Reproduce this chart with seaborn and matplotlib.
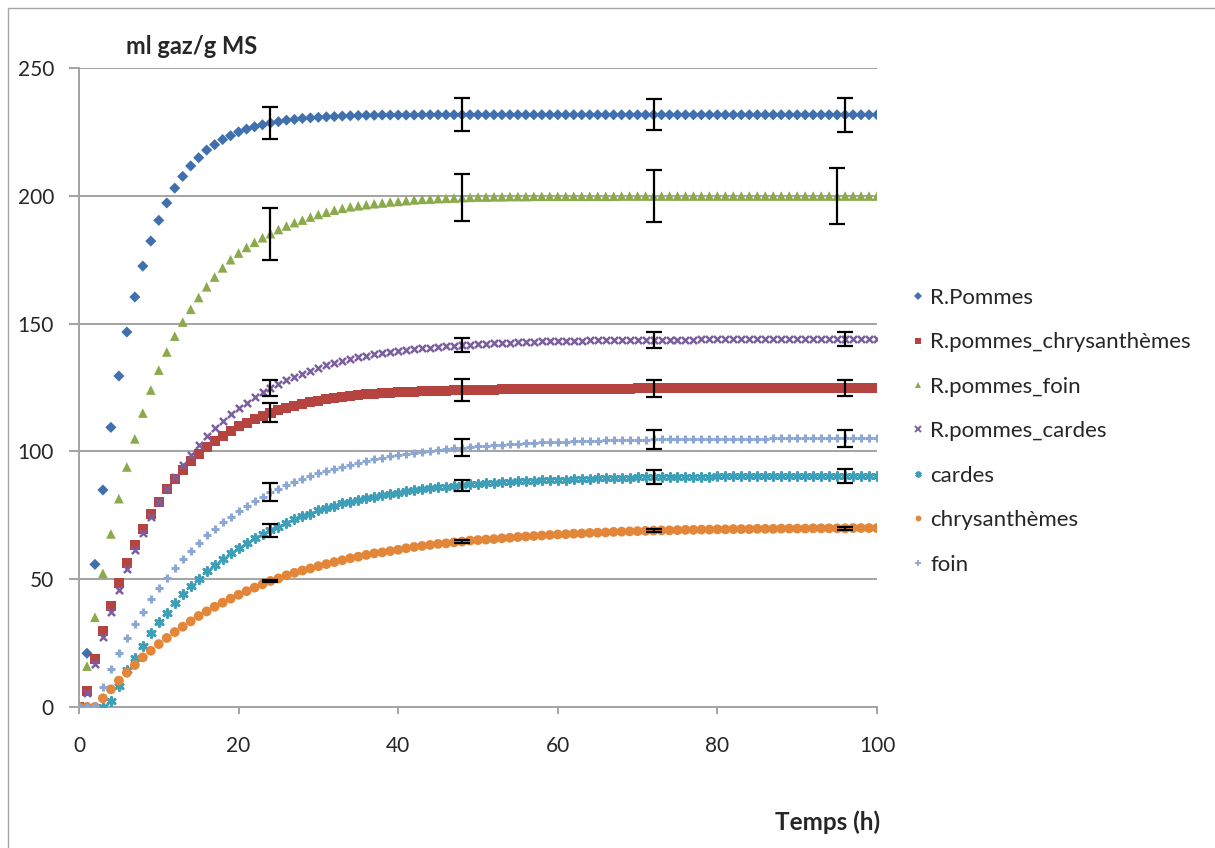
import matplotlib
matplotlib.use("Agg")
import matplotlib.pyplot as plt
from matplotlib.lines import Line2D
import seaborn as sns
import pandas as pd
import numpy as np

hours = list(range(0, 101))

r_pommes = [0, 21, 55.8, 84.9, 109.4, 129.5, 146.7, 160.4, 172.5, 182.3,
            190.4, 197.2, 203, 207.6, 211.7, 214.9, 217.9, 220, 222, 223.5,
            225, 226.1, 227, 227.8, 228.5, 229, 229.6, 229.9, 230.3, 230.5,
            230.7, 230.9, 231, 231.2, 231.3, 231.4, 231.5, 231.5, 231.6, 231.6,
            231.6, 231.6, 231.6, 231.7, 231.7, 231.7, 231.7, 231.7, 231.7, 231.7,
            231.7, 231.7, 231.7, 231.7, 231.7, 231.7, 231.7, 231.7, 231.7, 231.7,
            231.7, 231.7, 231.7, 231.7, 231.7, 231.7, 231.7, 231.7, 231.7, 231.7,
            231.7, 231.7, 231.7, 231.7, 231.7, 231.7, 231.7, 231.7, 231.7, 231.7,
            231.7, 231.7, 231.7, 231.7, 231.7, 231.7, 231.7, 231.7, 231.7, 231.7,
            231.7, 231.7, 231.7, 231.7, 231.7, 231.7, 231.7, 231.7, 231.7, 231.7,
            231.7]

r_chrys = [0, 6.4, 18.8, 29.6, 39.6, 48.4, 56.2, 63.3, 69.6, 75.4,
           80.3, 85.2, 89.2, 92.7, 96.1, 99.1, 101.6, 104.1, 106.2, 108.1,
           109.8, 111.3, 112.7, 114, 115.2, 116.1, 117, 117.9, 118.7, 119.3,
           119.8, 120.5, 120.9, 121.3, 121.7, 122.1, 122.3, 122.6, 122.7, 123,
           123.1, 123.3, 123.4, 123.5, 123.6, 123.7, 123.8, 123.9, 124, 124,
           124.1, 124.2, 124.2, 124.3, 124.3, 124.4, 124.4, 124.4, 124.5, 124.5,
           124.5, 124.5, 124.5, 124.6, 124.6, 124.6, 124.6, 124.6, 124.6, 124.6,
           124.7, 124.7, 124.7, 124.7, 124.7, 124.7, 124.7, 124.7, 124.7, 124.7,
           124.7, 124.7, 124.7, 124.7, 124.7, 124.7, 124.8, 124.8, 124.8, 124.8,
           124.8, 124.8, 124.8, 124.8, 124.8, 124.8, 124.8, 124.8, 124.8, 124.8,
           124.8]

r_foin = [0, 16, 35.1, 52.3, 67.7, 81.5, 93.9, 104.9, 115, 124,
          131.8, 138.9, 145.1, 150.6, 155.6, 160.2, 164.4, 168.2, 171.8, 175,
          177.6, 179.8, 181.8, 183.6, 185.2, 186.8, 188.2, 189.5, 190.5, 191.7,
          192.7, 193.6, 194.4, 195.1, 195.7, 196.1, 196.5, 196.9, 197.2, 197.6,
          197.8, 198.1, 198.4, 198.6, 198.7, 198.9, 199, 199.1, 199.3, 199.4,
          199.5, 199.5, 199.6, 199.6, 199.7, 199.7, 199.7, 199.8, 199.8, 199.8,
          199.8, 199.8, 199.8, 199.8, 199.8, 199.8, 199.8, 199.8, 199.9, 199.9,
          199.9, 199.9, 199.9, 199.9, 199.9, 199.9, 199.9, 199.9, 199.9, 199.9,
          199.9, 199.9, 199.9, 199.9, 199.9, 199.9, 199.9, 199.9, 199.9, 199.9,
          199.9, 199.9, 199.9, 199.9, 199.9, 199.9, 199.9, 199.9, 199.9, 199.9,
          199.9]

r_cardes = [0, 5.4, 17, 27.3, 37, 45.8, 53.9, 61.3, 68.1, 74.2,
            80.1, 85.3, 90.1, 94.7, 98.7, 102.5, 106, 109.2, 111.7, 114.5,
            116.9, 119.1, 121.2, 123.1, 124.9, 126.4, 127.9, 129.2, 130.3, 131.5,
            132.6, 133.7, 134.6, 135.4, 136.2, 136.8, 137.4, 138.1, 138.6, 139,
            139.4, 139.8, 140, 140.3, 140.6, 140.8, 141.1, 141.4, 141.5, 141.8,
            142, 142.2, 142.3, 142.4, 142.6, 142.7, 142.8, 142.9, 143, 143.1,
            143.2, 143.2, 143.3, 143.3, 143.4, 143.4, 143.5, 143.5, 143.5, 143.6,
            143.6, 143.6, 143.6, 143.7, 143.7, 143.7, 143.7, 143.7, 143.8, 143.8,
            143.8, 143.8, 143.8, 143.8, 143.8, 143.8, 143.9, 143.9, 143.9, 143.9,
            143.9, 143.9, 143.9, 143.9, 143.9, 143.9, 143.9, 143.9, 143.9, 143.9,
            143.9]

cardes = [0, 0, 0, 0, 2.3, 8.3, 14.5, 19.3, 24, 28.8,
          33.1, 36.9, 40.7, 44.2, 47.5, 50.2, 53.2, 55.7, 58, 60.3,
          62.3, 64.2, 66, 67.8, 69.2, 70.5, 72, 73.4, 74.6, 75.6,
          76.9, 78, 78.8, 79.7, 80.2, 81, 81.6, 82.3, 82.8, 83.3,
          83.8, 84.4, 84.8, 85.2, 85.6, 86, 86.2, 86.5, 86.7, 87.1,
          87.4, 87.5, 87.8, 87.9, 88.1, 88.3, 88.4, 88.6, 88.7, 88.8,
          88.9, 89, 89.1, 89.2, 89.3, 89.4, 89.5, 89.6, 89.6, 89.7,
          89.8, 89.8, 89.9, 89.9, 90, 90, 90, 90.1, 90.1, 90.1,
          90.2, 90.2, 90.2, 90.2, 90.3, 90.3, 90.3, 90.3, 90.3, 90.4,
          90.4, 90.4, 90.4, 90.4, 90.4, 90.4, 90.4, 90.4, 90.4, 90.4,
          90.4]

chrys = [0, 0, 0, 3.4, 6.9, 10.3, 13.4, 16.4, 19.4, 22,
         24.6, 27, 29.3, 31.4, 33.5, 35.6, 37.4, 39.2, 40.8, 42.4,
         43.9, 45.3, 46.7, 48, 49.3, 50.3, 51.5, 52.5, 53.4, 54.2,
         55.1, 55.9, 56.7, 57.4, 58.2, 58.8, 59.5, 60.1, 60.5, 61,
         61.5, 62.1, 62.6, 63, 63.4, 63.8, 64, 64.4, 64.7, 65.1,
         65.3, 65.5, 65.7, 66, 66.2, 66.5, 66.7, 66.9, 67.1, 67.3,
         67.5, 67.6, 67.8, 67.9, 68.1, 68.2, 68.3, 68.5, 68.6, 68.7,
         68.8, 68.9, 69, 69.1, 69.1, 69.2, 69.3, 69.3, 69.4, 69.4,
         69.5, 69.5, 69.6, 69.6, 69.6, 69.7, 69.7, 69.7, 69.8, 69.8,
         69.8, 69.8, 69.9, 69.9, 69.9, 69.9, 69.9, 70, 70, 70,
         70]

foin = [0, 0, 0.5, 7.9, 14.7, 21, 26.9, 32.4, 37.3, 42.1,
        46.4, 50.5, 54.4, 57.9, 61.2, 64.3, 67.2, 69.8, 72.2, 74.5,
        76.7, 78.8, 80.6, 82.3, 84, 85.3, 86.7, 88, 89.3, 90.5,
        91.5, 92.3, 93.2, 94, 94.8, 95.6, 96.2, 96.9, 97.5, 98.1,
        98.6, 99.1, 99.5, 99.9, 100.3, 100.7, 100.9, 101.2, 101.5, 101.8,
        102.1, 102.3, 102.5, 102.6, 102.8, 103, 103.2, 103.3, 103.5, 103.6,
        103.7, 103.8, 103.9, 104, 104.1, 104.2, 104.3, 104.4, 104.4, 104.5,
        104.6, 104.6, 104.7, 104.7, 104.8, 104.8, 104.8, 104.9, 104.9, 104.9,
        104.9, 105, 105, 105, 105, 105, 105, 105.1, 105.1, 105.1,
        105.1, 105.1, 105.1, 105.1, 105.1, 105.1, 105.1, 105.1, 105.1, 105.1,
        105.1]

# error bars (hours where they sit, half-width)
err_hours = [24, 48, 72, 96]
err_hours_foin_mix = [24, 48, 72, 95]
err_pommes = [6.2, 6.4, 6.0, 6.7]
err_chrys_mix = [3.8, 4.2, 3.4, 3.3]
err_foin_mix = [10.2, 9.3, 10.2, 10.8]
err_cardes_mix = [3.2, 2.7, 3.3, 2.7]
err_cardes = [2.5, 2.3, 2.7, 2.9]
err_chrys = [0.5, 0.5, 0.6, 0.7]
err_foin = [3.5, 3.3, 3.8, 3.3]

series = [
    ("R.Pommes", r_pommes, "#4170AE", "D", 32, 0, err_hours, err_pommes),
    ("R.pommes_chrysanthèmes", r_chrys, "#B5433F", "s", 52, 0, err_hours, err_chrys_mix),
    ("R.pommes_foin", r_foin, "#8BAA4B", "^", 48, 0, err_hours_foin_mix, err_foin_mix),
    ("R.pommes_cardes", r_cardes, "#7B5E9E", "x", 26, 1.8, err_hours, err_cardes_mix),
    ("cardes", cardes, "#3EA0B8", (6, 2, 0), 34, 2.0, err_hours, err_cardes),
    ("chrysanthèmes", chrys, "#E2873A", "o", 50, 0, err_hours, err_chrys),
    ("foin", foin, "#8DA7D4", "+", 34, 2.2, err_hours, err_foin),
]

sns.set_style("white")
plt.rcParams["font.family"] = ["Lato", "DejaVu Sans"]

fig = plt.figure(figsize=(12.15, 8.48), dpi=100)
ax = fig.add_axes([0.065, 0.1663, 0.6568, 0.7535])

handles = []
for name, vals, col, mk, sz, lw, ex, ee in series:
    df = pd.DataFrame({"t": hours, "v": vals})
    if lw == 0:
        sns.scatterplot(data=df, x="t", y="v", ax=ax, color=col, marker=mk, s=sz,
                        edgecolor="none", zorder=3, legend=False)
    else:
        sns.scatterplot(data=df, x="t", y="v", ax=ax, color=col, marker=mk, s=sz,
                        linewidth=lw, zorder=3, legend=False)
    ey = [vals[h] for h in ex]
    ax.errorbar(ex, ey, yerr=ee, fmt="none", ecolor="black", elinewidth=1.6,
                capsize=5.5, capthick=1.6, zorder=4)
    handles.append(Line2D([], [], color=col, marker=mk, linestyle="",
                          markersize=4.2 if lw == 0 else 4.5,
                          markeredgewidth=0 if lw == 0 else 1.4))

ax.set_xlim(0, 100)
ax.set_ylim(0, 250)
ax.set_xticks([0, 20, 40, 60, 80, 100])
ax.set_yticks([0, 50, 100, 150, 200, 250])
ax.grid(axis="y", color="#a3a3a3", linewidth=1.4)
ax.grid(axis="x", visible=False)
ax.set_axisbelow(True)
for s in ["top", "right"]:
    ax.spines[s].set_visible(False)
for s in ["left", "bottom"]:
    ax.spines[s].set_color("#a3a3a3")
    ax.spines[s].set_linewidth(1.4)
ax.tick_params(axis="y", direction="out", length=7, width=1.4, color="#a3a3a3",
               labelsize=15, pad=11, left=True)
ax.tick_params(axis="x", direction="out", length=5, width=1.4, color="#a3a3a3",
               labelsize=15, pad=16, bottom=True)
ax.set_xlabel("")
ax.set_ylabel("")

fig.text(0.1035, 0.945, "ml gaz/g MS", fontsize=17, fontweight="bold", va="center")
fig.text(0.638, 0.031, "Temps (h)", fontsize=17.5, fontweight="bold", va="center")

ax.legend(handles, [s[0] for s in series], loc="upper left",
          bbox_to_anchor=(0.7437, 0.671), bbox_transform=fig.transFigure,
          frameon=False, fontsize=16, labelspacing=1.1, handlelength=0.5,
          handletextpad=0.3, borderaxespad=0)

# outer frame (only the left and top edges show)
fig.add_artist(Line2D([8 / 1215, 8 / 1215], [0, 1 - 8 / 848], color="#a6a6a6",
                      linewidth=1, transform=fig.transFigure))
fig.add_artist(Line2D([8 / 1215, 1], [1 - 8 / 848, 1 - 8 / 848], color="#a6a6a6",
                      linewidth=1, transform=fig.transFigure))

fig.savefig("out.png", dpi=100, facecolor="white")
